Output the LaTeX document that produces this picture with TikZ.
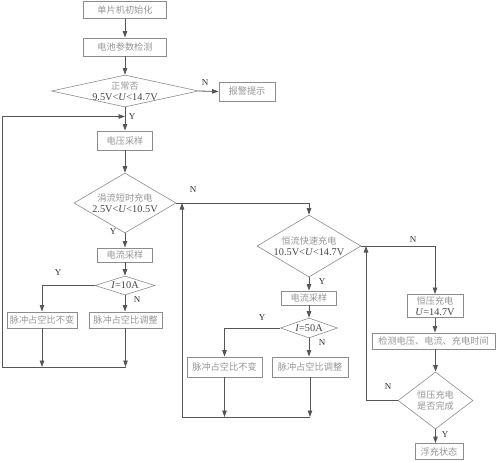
\documentclass[tikz,border=0pt]{standalone}
\usepackage{fontspec}
\setmainfont{Liberation Serif}
\newfontfamily\cjk{Noto Sans CJK SC}
\usetikzlibrary{shapes.geometric,arrows.meta}
\definecolor{txt}{HTML}{959595}
\definecolor{num}{HTML}{454545}
\definecolor{bdr}{HTML}{8C8C8C}
\definecolor{lnc}{HTML}{555555}
\definecolor{lbl}{HTML}{333333}
\newcommand{\zh}[1]{{\cjk\fontsize{9.2}{11}\selectfont\color{txt}#1}}
\tikzset{
 box/.style={draw=bdr, line width=0.9pt, text=txt, font=\cjk\fontsize{9.2}{10.5}\selectfont, inner sep=0pt, align=center},
 dia/.style={diamond, draw=bdr, line width=0.6pt, text=num, font=\fontsize{10.3}{11.5}\selectfont, inner sep=-15pt, align=center},
 con/.style={draw=lnc, line width=0.8pt},
 arr/.style={con, -{Triangle[length=6.5pt,width=4.5pt]}},
 lab/.style={text=lbl, font=\fontsize{9}{10}\selectfont, inner sep=0pt},
}
\begin{document}
\begin{tikzpicture}[x=1pt,y=-1pt]
\useasboundingbox (0,0) rectangle (500,461);
% first column
\node[box, minimum width=83pt, minimum height=17pt] (n1) at (125,10) {单片机初始化};
\node[box, minimum width=83pt, minimum height=18pt] (n2) at (125,47) {电池参数检测};
\node[dia, minimum width=147pt, minimum height=32pt, shape aspect=4.6] (d1) at (125,91) {\zh{正常否}\\9.5V<\textit{U}<14.7V};
\node[box, minimum width=56pt, minimum height=19pt] (alarm) at (247,91.5) {报警提示};
\node[box, minimum width=55pt, minimum height=19pt] (n3) at (125,140.5) {电压采样};
\node[dia, minimum width=102pt, minimum height=60pt, shape aspect=1.7] (d2) at (125,203) {\zh{涓流短时充电}\\2.5V<\textit{U}<10.5V};
\node[box, minimum width=55pt, minimum height=14pt] (n4) at (125,255) {电流采样};
\node[dia, minimum width=60pt, minimum height=19pt, shape aspect=3.2] (d3) at (125,285.5) {\textit{I}=10A};
\node[box, minimum width=70pt, minimum height=16pt] (b1) at (42,320) {脉冲占空比不变};
\node[box, minimum width=73pt, minimum height=16pt] (b2) at (125.5,320) {脉冲占空比调整};
% second column
\node[dia, minimum width=104pt, minimum height=62pt, shape aspect=1.7] (d4) at (309,246) {\zh{恒流快速充电}\\10.5V<\textit{U}<14.7V};
\node[box, minimum width=55pt, minimum height=14pt] (n5) at (309,298) {电流采样};
\node[dia, minimum width=57pt, minimum height=20pt, shape aspect=2.9] (d5) at (309,328) {\textit{I}=50A};
\node[box, minimum width=75pt, minimum height=20pt] (b3) at (224.5,367) {脉冲占空比不变};
\node[box, minimum width=76pt, minimum height=20pt] (b4) at (310,367) {脉冲占空比调整};
% third column
\node[box, minimum width=56pt, minimum height=23pt] (n6) at (435,306) {恒压充电\\{\rmfamily\fontsize{10.3}{11}\selectfont\color{num}\textit{U}=14.7V}};
\node[box, minimum width=123pt, minimum height=16pt] (n7) at (433.5,341) {检测电压、电流、充电时间};
\node[dia, minimum width=75pt, minimum height=57pt, shape aspect=1.3] (d6) at (435.5,400.5) {\zh{恒压充电}\\\zh{是否完成}};
\node[box, minimum width=48pt, minimum height=16pt] (n8) at (439,451.5) {浮充状态};
% junction coordinates
\coordinate (c0) at (42,367);
\coordinate (c1) at (125.5,367);
\coordinate (cL) at (2,367);
\coordinate (cT) at (2,116.5);
\coordinate (e0) at (224.5,417);
\coordinate (e1) at (310,417);
\coordinate (eL) at (182,417);
\coordinate (eT) at (182,203);
\coordinate (f1) at (366,400.5);
\coordinate (f2) at (366,246);
% connectors, first column
\draw[arr] (n1) -- (n2);
\draw[arr] (n2) -- (d1);
\draw[arr] (d1.east) -- (alarm.west);
\draw[arr] (d1) -- (n3);
\draw[arr] (n3) -- (d2);
\draw[arr] (d2) -- (n4);
\draw[arr] (n4) -- (d3);
\draw[arr] (d3.west) -| (b1.north);
\draw[arr] (d3.south) -- (d3.south |- b2.north);
\draw[arr] (b1) -- (c0);
\draw[arr] (b2) -- (c1);
\draw[arr] (c1) -- (cL) -- (cT) -- (cT -| n3.north);
% second column
\draw[arr] (d2.east) -| (d4.north);
\draw[arr] (d4) -- (n5);
\draw[arr] (n5) -- (d5);
\draw[arr] (d5.west) -| (b3.north);
\draw[arr] (d5.south) -- (d5.south |- b4.north);
\draw[arr] (b3) -- (e0);
\draw[arr] (b4.south) -- (b4.south |- e1);
\draw[arr] (e1) -- (eL) -- (eT);
% third column
\draw[arr] (d4.east) -| (n6.north);
\draw[arr] (n6.south) -- (n6.south |- n7.north);
\draw[arr] (n7.south -| d6) -- (d6.north);
\draw[arr] (d6.south) -- (d6.south |- n8.north);
\draw[arr] (d6.west) -- (f1) -- (f2);
% labels
\node[lab] (l1) at (205,83) {N};
\node[lab] (l2) at (132,117) {Y};
\node[lab] (l3) at (193,190) {N};
\node[lab] (l4) at (113,232) {Y};
\node[lab] (l5) at (58,273) {Y};
\node[lab] (l6) at (137,300) {N};
\node[lab] (l7) at (322,282) {Y};
\node[lab] (l8) at (413,240) {N};
\node[lab] (l9) at (262,318) {Y};
\node[lab] (l10) at (322,343) {N};
\node[lab] (l11) at (388,387) {N};
\node[lab] (l12) at (445,435) {Y};
\end{tikzpicture}
\end{document}
